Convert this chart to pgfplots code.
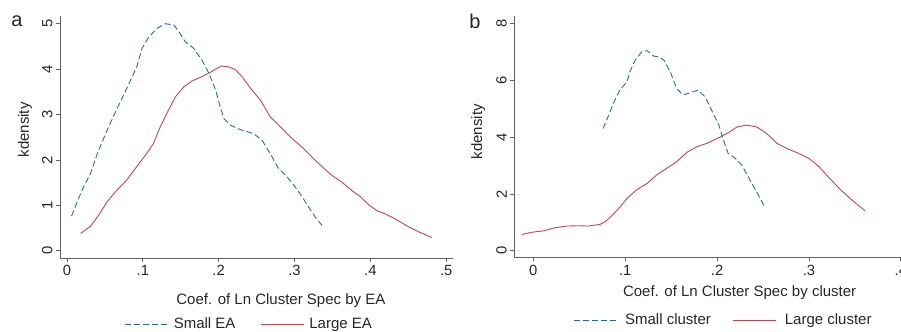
\documentclass[border=0pt]{standalone}
\usepackage{pgfplots}
\pgfplotsset{compat=1.18}
\usepackage{fontspec}
\setmainfont{Liberation Sans}
\definecolor{smallc}{HTML}{1F6F96}
\definecolor{largec}{HTML}{C8434D}
\definecolor{axgray}{HTML}{606060}
\pgfplotsset{
  statastyle/.style={
    scale only axis,
    axis x line*=bottom, axis y line*=left,
    axis line style={-, draw=axgray, line width=0.8bp},
    tick align=outside, major tick length=4bp,
    tick style={draw=axgray, line width=0.8bp},
    /pgf/number format/assume math mode=true,
    tick label style={font=\fontsize{14.8bp}{17bp}\selectfont, text=black!85},
    label style={font=\fontsize{15bp}{17bp}\selectfont, text=black!85},
    yticklabel style={rotate=90, anchor=south},
    legend style={draw=none, fill=none, font=\fontsize{15bp}{17bp}\selectfont, text=black!85,
      /tikz/every odd column/.append style={column sep=3bp},
      /tikz/every even column/.append style={column sep=23bp}},
    legend columns=2,
    legend image code/.code={\draw[#1] (0bp,0bp) -- (43bp,0bp);},
    smallp/.style={color=smallc, line width=0.9bp, dash pattern=on 6bp off 3bp},
    largep/.style={color=largec, line width=0.9bp, solid},
  }
}
\begin{document}
\begin{tikzpicture}
\useasboundingbox (0,0) rectangle (901bp,332bp);
\begin{axis}[statastyle,
  at={(60bp,74bp)}, anchor=south west, width=393bp, height=242bp,
  xmin=-0.0092, xmax=0.509, ymin=-0.16, ymax=5.17,
  xtick={0,0.1,0.2,0.3,0.4,0.5}, xticklabels={0,.1,.2,.3,.4,.5},
  ytick={0,1,2,3,4,5},
  xlabel={Coef. of Ln Cluster Spec by EA},
  xlabel style={at={(axis description cs:0.562,-0.178)}, anchor=center},
  ylabel={kdensity},
  ylabel style={at={(axis description cs:-0.089,0.529)}, anchor=center},
  legend style={at={(axis description cs:0.482,-0.273)}, anchor=center},
]
\addplot[smallp] coordinates {
(0.006,0.765) (0.020,1.34) (0.031,1.70) (0.040,2.14) (0.053,2.66) (0.066,3.13)
(0.081,3.65) (0.092,4.05) (0.099,4.46) (0.108,4.71) (0.119,4.90) (0.130,5.00)
(0.141,4.97) (0.149,4.79) (0.156,4.60) (0.167,4.46) (0.178,4.20) (0.187,3.91)
(0.196,3.54) (0.202,3.17) (0.207,2.91) (0.215,2.77) (0.228,2.67) (0.246,2.58)
(0.257,2.44) (0.268,2.14) (0.279,1.81) (0.288,1.67) (0.299,1.45) (0.310,1.19)
(0.321,0.90) (0.330,0.68) (0.339,0.51)
};
\addlegendentry{Small EA}
\addplot[largep] coordinates {
(0.018,0.38) (0.031,0.54) (0.042,0.79) (0.053,1.08) (0.064,1.30) (0.079,1.56)
(0.090,1.81) (0.105,2.14) (0.114,2.36) (0.123,2.73) (0.134,3.10) (0.143,3.39)
(0.154,3.61) (0.165,3.74) (0.176,3.82) (0.187,3.91) (0.196,4.00) (0.204,4.07)
(0.213,4.05) (0.222,3.99) (0.231,3.83) (0.242,3.58) (0.255,3.32) (0.268,2.95)
(0.279,2.77) (0.290,2.58) (0.299,2.44) (0.312,2.25) (0.325,2.03) (0.341,1.78)
(0.351,1.64) (0.362,1.52) (0.376,1.32) (0.387,1.19) (0.398,1.01) (0.409,0.88)
(0.420,0.81) (0.435,0.68) (0.450,0.53) (0.466,0.40) (0.481,0.29)
};
\addlegendentry{Large EA}
\end{axis}
\node[font=\fontsize{20bp}{22bp}\selectfont, text=black!85] at (17bp,311bp) {a};
\begin{axis}[statastyle,
  at={(514.3bp,74.7bp)}, anchor=south west, width=386.5bp, height=241.3bp,
  xmin=-0.0207, xmax=0.400, ymin=-0.23, ymax=8.26,
  xtick={0,0.1,0.2,0.3,0.4}, xticklabels={0,.1,.2,.3,.4},
  ytick={0,2,4,6,8},
  xlabel={Coef. of Ln Cluster Spec by cluster},
  xlabel style={at={(axis description cs:0.583,-0.145)}, anchor=center},
  ylabel={kdensity},
  ylabel style={at={(axis description cs:-0.093,0.52)}, anchor=center},
  legend style={at={(axis description cs:0.541,-0.26)}, anchor=center,
    /tikz/every odd column/.append style={column sep=6bp},
    /tikz/every even column/.append style={column sep=20bp}},
]
\addplot[smallp] coordinates {
(0.076,4.30) (0.082,4.77) (0.087,5.18) (0.094,5.65) (0.102,5.95) (0.105,6.30)
(0.111,6.71) (0.118,7.00) (0.124,7.04) (0.131,6.85) (0.136,6.83) (0.142,6.71)
(0.149,6.30) (0.156,5.71) (0.163,5.48) (0.171,5.56) (0.179,5.65) (0.187,5.42)
(0.194,4.95) (0.202,4.42) (0.207,3.89) (0.212,3.43) (0.220,3.25) (0.227,3.01)
(0.234,2.60) (0.242,2.13) (0.249,1.72) (0.252,1.52)
};
\addlegendentry{Small cluster}
\addplot[largep] coordinates {
(-0.0127,0.57) (-0.0018,0.65) (0.0109,0.70) (0.0236,0.81) (0.0363,0.87) (0.049,0.88)
(0.060,0.87) (0.0727,0.93) (0.078,1.02) (0.085,1.22) (0.093,1.49) (0.102,1.84)
(0.113,2.16) (0.124,2.37) (0.134,2.66) (0.145,2.90) (0.156,3.13) (0.167,3.46)
(0.178,3.66) (0.189,3.78) (0.200,3.95) (0.211,4.13) (0.222,4.36) (0.232,4.42)
(0.243,4.36) (0.254,4.13) (0.265,3.78) (0.276,3.60) (0.287,3.45) (0.300,3.25)
(0.311,2.96) (0.321,2.60) (0.334,2.16) (0.349,1.72) (0.361,1.41)
};
\addlegendentry{Large cluster}
\end{axis}
\node[font=\fontsize{20bp}{22bp}\selectfont, text=black!85] at (475bp,311bp) {b};
\end{tikzpicture}
\end{document}
